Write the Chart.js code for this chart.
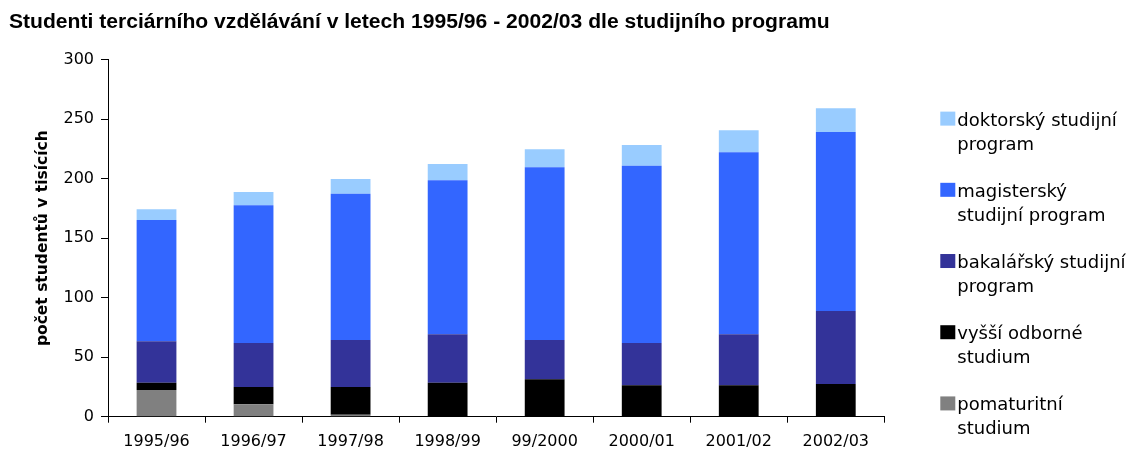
<!DOCTYPE html>
<html lang="cs">
<head>
<meta charset="utf-8">
<title>Studenti terciárního vzdělávání</title>
<script src="https://cdn.jsdelivr.net/npm/chart.js@4.4.1/dist/chart.umd.min.js"></script>
<style>
    html, body { margin: 0; padding: 0; background: #fff; }
</style>
</head>
<body>
<canvas id="studentiChart" width="1131" height="450"></canvas>
<script>
// počty studentů v tisících, školní roky
const roky = ['1995/96', '1996/97', '1997/98', '1998/99', '99/2000', '2000/01', '2001/02', '2002/03'];
const pomaturitni = [22.4, 10.4, 1.7, 0, 0, 0, 0, 0];
const vyssiOdborne = [6.2, 14.6, 23.3, 28.6, 31.4, 26.4, 26.4, 27.4];
const bakalarsky = [34.8, 36.9, 39.4, 40.6, 33.0, 35.5, 42.8, 61.4];
const magistersky = [101.9, 115.7, 123.0, 129.5, 145.2, 149.0, 153.0, 150.4];
const doktorsky = [9.0, 11.2, 12.3, 13.7, 15.1, 17.4, 18.5, 20.0];

// popisky legendy po řádcích
const legendaPomaturitni = ['pomaturitní', 'studium'];
const legendaVyssi = ['vyšší odborné', 'studium'];
const legendaBakalarsky = ['bakalářský studijní', 'program'];
const legendaMagistersky = ['magisterský', 'studijní program'];
const legendaDoktorsky = ['doktorský studijní', 'program'];

const PISMO = 'DejaVu Sans';

// legenda vpravo, víceřádkové popisky, pořadí shora dolů jako ve sloupci
const pravaLegenda = {
    id: 'pravaLegenda',
    afterDraw(chart) {
        const ctx = chart.ctx;
        const area = chart.chartArea;
        const sady = chart.data.datasets.slice().reverse();
        ctx.save();
        ctx.font = '18px "' + PISMO + '"';
        ctx.textAlign = 'left';
        ctx.textBaseline = 'alphabetic';
        sady.forEach(function (ds, i) {
            const y = area.top + 66 + i * 71.2;
            ctx.fillStyle = ds.backgroundColor;
            ctx.fillRect(area.right + 56, y - 14, 15, 14);
            ctx.fillStyle = '#000';
            ds.legenda.forEach(function (radek, j) {
                ctx.fillText(radek, area.right + 73, y + j * 24);
            });
        });
        ctx.restore();
    }
};

new Chart(document.getElementById('studentiChart'), {
    type: 'bar',
    data: {
        labels: roky,
        datasets: [
            { label: 'pomaturitní studium', data: pomaturitni, backgroundColor: '#808080', legenda: legendaPomaturitni },
            { label: 'vyšší odborné studium', data: vyssiOdborne, backgroundColor: '#000000', legenda: legendaVyssi },
            { label: 'bakalářský studijní program', data: bakalarsky, backgroundColor: '#333399', legenda: legendaBakalarsky },
            { label: 'magisterský studijní program', data: magistersky, backgroundColor: '#3366FF', legenda: legendaMagistersky },
            { label: 'doktorský studijní program', data: doktorsky, backgroundColor: '#99CCFF', legenda: legendaDoktorsky }
        ]
    },
    options: {
        responsive: false,
        animation: false,
        devicePixelRatio: 1,
        layout: {
            padding: { left: 9, right: 246.7, top: 0, bottom: 0 }
        },
        datasets: {
            bar: {
                categoryPercentage: 1,
                barPercentage: 0.41,
                borderWidth: 0
            }
        },
        plugins: {
            legend: { display: false },
            tooltip: { enabled: false },
            title: {
                display: true,
                text: 'Studenti terciárního vzdělávání v letech 1995/96 - 2002/03 dle studijního programu',
                align: 'start',
                color: '#000',
                font: { family: 'Liberation Sans', weight: 'bold', size: 21.1 },
                padding: { top: 10, bottom: 24.3 }
            }
        },
        scales: {
            x: {
                stacked: true,
                ticks: {
                    color: '#000',
                    font: { family: PISMO, size: 16 },
                    padding: 10,
                    maxRotation: 0
                },
                grid: { drawOnChartArea: false, tickLength: 6, color: '#000' },
                border: { color: '#000', width: 1 },
                afterFit: function (scale) { scale.height = 33.3; }
            },
            y: {
                stacked: true,
                min: 0,
                max: 300,
                ticks: {
                    stepSize: 50,
                    color: '#000',
                    font: { family: PISMO, size: 16 },
                    padding: 7
                },
                grid: { drawOnChartArea: false, tickLength: 7, color: '#000' },
                border: { color: '#000', width: 1 },
                title: {
                    display: true,
                    text: 'počet studentů v tisících',
                    color: '#000',
                    font: { family: PISMO, weight: 'bold', size: 15.5 },
                    padding: { top: 25, bottom: 0 }
                },
                afterFit: function (scale) { scale.width = 99; }
            }
        }
    },
    plugins: [pravaLegenda]
});
</script>
</body>
</html>
